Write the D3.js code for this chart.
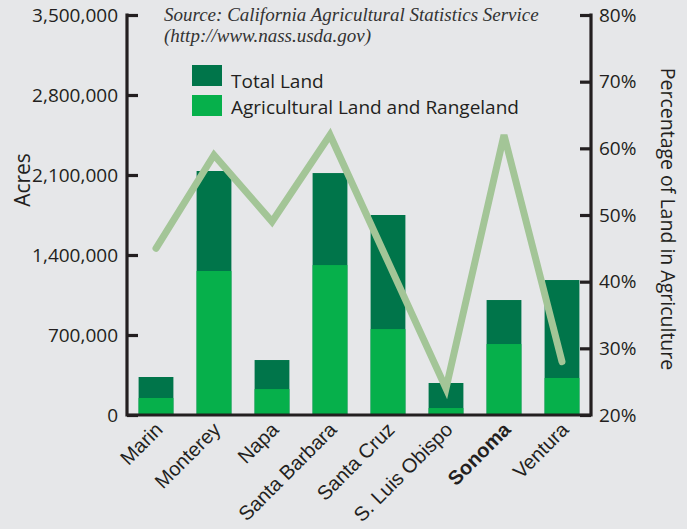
<!DOCTYPE html>
<html><head><meta charset="utf-8">
<script src="https://cdn.jsdelivr.net/npm/d3@7"></script>
<style>
html,body{margin:0;padding:0;background:#e6e7e9;}
svg{display:block;}
</style></head>
<body>
<svg id="chart" width="687" height="529"></svg>
<script>
const counties = ["Marin","Monterey","Napa","Santa Barbara","Santa Cruz","S. Luis Obispo","Sonoma","Ventura"];
const totalLand = [332500, 2135000, 481000, 2117000, 1750000, 280000, 1006000, 1181000];
const agLand = [149000, 1260000, 227000, 1312000, 752000, 61000, 621000, 324000];
const pctAg = [45, 59, 49, 62, 43, 24, 62, 28];
const leftTicks = [0, 700000, 1400000, 2100000, 2800000, 3500000];
const rightTicks = [20, 30, 40, 50, 60, 70, 80];
const highlight = "Sonoma";

const colTotal = "#00754a", colAg = "#06b04b", colLine = "#a3c597", ink = "#231f20";
const svg = d3.select("#chart");
const x0 = 127, x1 = 591, yTop = 15, yBot = 415;

const x = d3.scaleBand().domain(counties).range([x0, x1]).paddingInner(0.4).paddingOuter(0.2);
const yL = d3.scaleLinear().domain([0, 3500000]).range([yBot, yTop]);
const yR = d3.scaleLinear().domain([20, 80]).range([yBot, yTop]);

// bars
const g = svg.append("g");
g.selectAll("rect.total").data(counties).join("rect")
  .attr("x", d => x(d)).attr("width", x.bandwidth())
  .attr("y", (d,i) => yL(totalLand[i])).attr("height", (d,i) => yBot - yL(totalLand[i]))
  .attr("fill", colTotal);
g.selectAll("rect.ag").data(counties).join("rect")
  .attr("x", d => x(d)).attr("width", x.bandwidth())
  .attr("y", (d,i) => yL(agLand[i])).attr("height", (d,i) => yBot - yL(agLand[i]))
  .attr("fill", colAg);

// line
const line = d3.line().x((d,i) => x(counties[i]) + x.bandwidth()/2).y(d => yR(d));
svg.append("path").datum(pctAg).attr("d", line)
  .attr("fill", "none").attr("stroke", colLine).attr("stroke-width", 7)
  .attr("stroke-linecap", "round").attr("stroke-linejoin", "miter");

const fontUI = "'Open Sans', 'Noto Sans', sans-serif";

// left axis
const axL = svg.append("g").attr("transform", `translate(${x0},0)`)
  .call(d3.axisLeft(yL).tickValues(leftTicks).tickSizeInner(-11).tickSizeOuter(0).tickPadding(9)
    .tickFormat(d3.format(",")));
// right axis
const axR = svg.append("g").attr("transform", `translate(${x1},0)`)
  .call(d3.axisRight(yR).tickValues(rightTicks).tickSizeInner(-11).tickSizeOuter(0).tickPadding(8)
    .tickFormat(d => d + "%"));
[axL, axR].forEach(a => {
  a.selectAll(".tick line").attr("stroke", ink).attr("stroke-width", 3.2);
  a.selectAll(".tick text").attr("fill", ink).style("font-family", fontUI).style("font-size", "19px");
  a.select(".domain").attr("stroke", ink).attr("stroke-width", 3.2).attr("d", `M0,${yTop-1.6}V${yBot+1.6}`);
});

// bottom axis
const axB = svg.append("g").attr("transform", `translate(0,${yBot})`)
  .call(d3.axisBottom(x).tickSize(0).tickPadding(0));
axB.select(".domain").attr("stroke", ink).attr("stroke-width", 3.2).attr("d", `M${x0},0H${x1}`);
axB.selectAll(".tick text")
  .attr("text-anchor", "end")
  .attr("transform", "translate(-2,6) rotate(-45)")
  .attr("dy", "0.7em").attr("y", 0)
  .attr("fill", ink)
  .style("font-family", "'Liberation Sans', Arial, sans-serif")
  .style("font-size", "20px")
  .style("font-weight", d => d === highlight ? "bold" : "normal");

// axis titles
svg.append("text").attr("transform", "translate(30,180) rotate(-90)")
  .attr("text-anchor", "middle").attr("fill", ink)
  .style("font-family", fontUI).style("font-size", "21px").text("Acres");
svg.append("text").attr("transform", "translate(661,219) rotate(90)")
  .attr("text-anchor", "middle").attr("fill", ink)
  .style("font-family", fontUI).style("font-size", "19.5px").text("Percentage of Land in Agriculture");

// source
const src = svg.append("text").attr("fill", "#333")
  .style("font-family", "'Liberation Serif', 'Times New Roman', serif").style("font-style", "italic").style("font-size", "19px");
src.append("tspan").attr("x", 164).attr("y", 21).text("Source: California Agricultural Statistics Service");
src.append("tspan").attr("x", 164).attr("y", 41.5).text("(http://www.nass.usda.gov)");

// legend
const legendItems = [["Total Land", colTotal], ["Agricultural Land and Rangeland", colAg]];
const lg = svg.append("g").attr("transform", "translate(192,65)");
legendItems.forEach((it, i) => {
  lg.append("rect").attr("x", 0).attr("y", i*30).attr("width", 30).attr("height", 21).attr("fill", it[1]);
  lg.append("text").attr("x", 39).attr("y", 23 + i*26).attr("fill", ink)
    .style("font-family", fontUI).style("font-size", "19px").text(it[0]);
});
</script>
</body></html>
